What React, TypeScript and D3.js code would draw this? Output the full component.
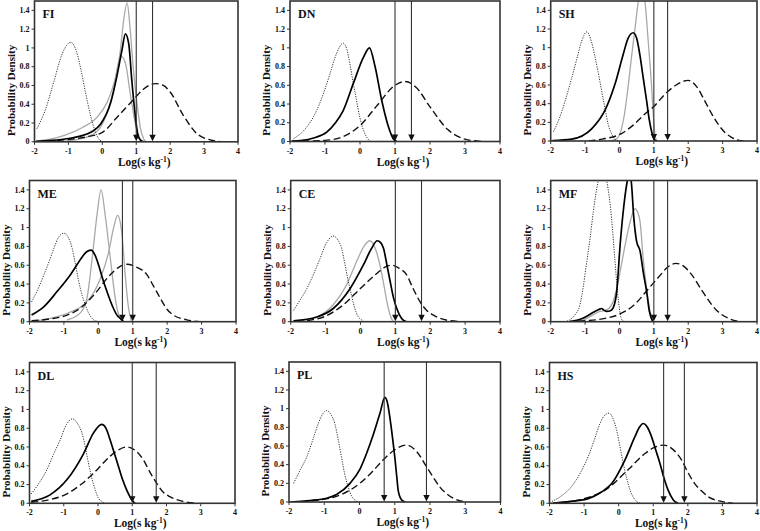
import React from 'react';
import * as d3 from 'd3';

type Pt = [number, number];

const xTicks = [-2, -1, 0, 1, 2, 3, 4];
const yTicks = [0, 0.2, 0.4, 0.6, 0.8, 1, 1.2, 1.4];
const yTickLabels = ['0', '0.2', '0.4', '0.6', '0.8', '1', '1.2', '1.4'];
const panelNames = ['FI', 'DN', 'SH', 'ME', 'CE', 'MF', 'DL', 'PL', 'HS'];

// ---- FI ----
const FI_dotted: Pt[] = [[-1.93,0.14],[-1.68,0.34],[-1.43,0.64],[-1.18,0.94],[-0.93,1.06],[-0.76,0.96],[-0.62,0.75],[-0.5,0.53],[-0.36,0.3],[-0.21,0.11],[-0.08,0.02],[0.05,0]];
const FI_black: Pt[] = [[-1.95,0.005],[-1.5,0.015],[-1.0,0.035],[-0.65,0.06],[-0.3,0.11],[-0.05,0.19],[0.24,0.41],[0.43,0.7],[0.58,0.98],[0.68,1.15],[0.78,1.04],[0.87,0.65],[0.97,0.28],[1.04,0.09],[1.12,0.02],[1.22,0]];
const FI_grayTall: Pt[] = [[-1.95,0.01],[-1.5,0.03],[-1.1,0.07],[-0.6,0.15],[-0.16,0.26],[0.14,0.42],[0.28,0.55],[0.43,0.75],[0.53,0.97],[0.63,1.3],[0.73,1.48],[0.82,1.2],[0.92,0.75],[1.02,0.42],[1.12,0.15],[1.22,0.03],[1.3,0]];
const FI_grayInner: Pt[] = [[-1.5,0],[-1.0,0.01],[-0.65,0.03],[-0.16,0.11],[0.14,0.31],[0.33,0.55],[0.45,0.8],[0.55,0.91],[0.68,0.84],[0.82,0.52],[0.97,0.2],[1.07,0.05],[1.17,0]];
const FI_dashed: Pt[] = [[-1.95,0],[-1.5,0.01],[-1.0,0.025],[-0.5,0.05],[0,0.1],[0.43,0.26],[0.92,0.45],[1.21,0.56],[1.56,0.62],[1.8,0.6],[2.0,0.53],[2.39,0.28],[2.78,0.09],[3.18,0.02],[3.5,0]];
const FI_arrows = [1.0, 1.48];

// ---- DN ----
const DN_dotted: Pt[] = [[-1.9,0.03],[-1.6,0.12],[-1.24,0.33],[-1.0,0.56],[-0.86,0.72],[-0.67,0.94],[-0.48,1.05],[-0.38,0.99],[-0.29,0.83],[-0.2,0.64],[-0.1,0.44],[0.0,0.25],[0.1,0.12],[0.2,0.04],[0.3,0]];
const DN_black: Pt[] = [[-1.95,0.005],[-1.7,0.01],[-1.3,0.04],[-0.95,0.1],[-0.7,0.2],[-0.48,0.33],[-0.19,0.62],[0.1,0.9],[0.27,1.0],[0.43,0.8],[0.62,0.44],[0.81,0.16],[0.95,0.03],[1.05,0]];
const DN_dashed: Pt[] = [[-1.95,0],[-1.5,0.005],[-1.0,0.012],[-0.5,0.05],[0,0.17],[0.5,0.39],[1.0,0.6],[1.29,0.64],[1.6,0.58],[2.0,0.37],[2.5,0.13],[3.0,0.025],[3.5,0]];
const DN_arrows = [1.0, 1.47];

// ---- SH ----
const SH_dotted: Pt[] = [[-1.92,0.1],[-1.75,0.24],[-1.58,0.43],[-1.4,0.66],[-1.24,0.88],[-1.1,1.07],[-0.95,1.17],[-0.82,1.07],[-0.71,0.9],[-0.6,0.7],[-0.52,0.54],[-0.42,0.35],[-0.33,0.18],[-0.22,0.07],[-0.13,0.02],[0,0]];
const SH_black: Pt[] = [[-1.95,0.005],[-1.39,0.02],[-0.81,0.13],[-0.42,0.33],[-0.13,0.61],[0.11,0.93],[0.25,1.1],[0.4,1.16],[0.5,1.1],[0.59,0.93],[0.69,0.68],[0.79,0.43],[0.87,0.22],[0.93,0.11],[1.03,0.01],[1.1,0]];
const SH_gray: Pt[] = [[-0.3,0],[-0.1,0.02],[0.05,0.12],[0.15,0.3],[0.26,0.61],[0.35,0.9],[0.45,1.2],[0.55,1.5],[0.64,1.65],[0.74,1.5],[0.84,1.05],[0.93,0.61],[0.98,0.3],[1.03,0.08],[1.08,0]];
const SH_dashed: Pt[] = [[-0.9,0],[-0.5,0.02],[0.06,0.08],[0.4,0.17],[0.74,0.29],[1.0,0.37],[1.32,0.5],[1.65,0.6],[2.0,0.65],[2.25,0.58],[2.48,0.43],[2.7,0.28],[2.87,0.18],[3.1,0.08],[3.26,0.04],[3.45,0.01],[3.6,0]];
const SH_arrows = [1.0, 1.4];

// ---- ME ----
const ME_dotted: Pt[] = [[-1.94,0.21],[-1.75,0.35],[-1.58,0.5],[-1.42,0.65],[-1.29,0.78],[-1.15,0.9],[-1.0,0.94],[-0.88,0.9],[-0.76,0.78],[-0.66,0.6],[-0.57,0.43],[-0.47,0.28],[-0.38,0.18],[-0.28,0.09],[-0.18,0.035],[-0.05,0.005],[0.06,0]];
const ME_black: Pt[] = [[-1.94,0.07],[-1.58,0.16],[-1.2,0.32],[-0.81,0.5],[-0.52,0.66],[-0.35,0.74],[-0.21,0.76],[-0.1,0.71],[0.01,0.6],[0.13,0.45],[0.25,0.32],[0.35,0.22],[0.44,0.14],[0.54,0.07],[0.64,0.035],[0.73,0]];
const ME_grayTall: Pt[] = [[-0.91,0.02],[-0.6,0.07],[-0.45,0.13],[-0.33,0.25],[-0.18,0.67],[-0.04,1.13],[0.08,1.4],[0.2,1.13],[0.35,0.67],[0.49,0.25],[0.57,0.1],[0.64,0.03],[0.72,0]];
const ME_grayWide: Pt[] = [[-1.8,0.01],[-1.39,0.035],[-0.9,0.09],[-0.43,0.18],[-0.15,0.3],[0.06,0.46],[0.3,0.74],[0.44,0.99],[0.56,1.13],[0.64,1.05],[0.69,0.92],[0.78,0.5],[0.88,0.14],[0.93,0.05],[0.98,0]];
const ME_dashed: Pt[] = [[-1.94,0.01],[-1.4,0.03],[-0.91,0.07],[-0.5,0.15],[-0.14,0.28],[0.35,0.5],[0.6,0.58],[0.83,0.61],[1.1,0.58],[1.41,0.5],[1.6,0.38],[1.8,0.25],[2.0,0.13],[2.18,0.07],[2.57,0.02],[2.96,0]];
const ME_arrows = [0.7, 1.0];

// ---- CE ----
const CE_dotted: Pt[] = [[-1.92,0.12],[-1.75,0.22],[-1.54,0.35],[-1.35,0.5],[-1.16,0.67],[-0.97,0.84],[-0.78,0.91],[-0.65,0.87],[-0.54,0.78],[-0.45,0.62],[-0.35,0.43],[-0.25,0.27],[-0.16,0.14],[-0.06,0.05],[0.03,0.02],[0.1,0]];
const CE_gray: Pt[] = [[-1.92,0],[-1.25,0.05],[-0.78,0.18],[-0.4,0.39],[-0.11,0.64],[0.1,0.8],[0.27,0.86],[0.4,0.8],[0.46,0.74],[0.56,0.6],[0.65,0.43],[0.8,0.14],[0.87,0.05],[0.94,0]];
const CE_black: Pt[] = [[-1.92,0.01],[-1.25,0.05],[-0.78,0.14],[-0.3,0.35],[0.08,0.6],[0.32,0.78],[0.48,0.86],[0.58,0.84],[0.66,0.78],[0.76,0.6],[0.85,0.43],[0.95,0.25],[1.04,0.14],[1.18,0.035],[1.32,0]];
const CE_dashed: Pt[] = [[-1.83,0],[-1.4,0.02],[-1.06,0.05],[-0.49,0.18],[-0.01,0.35],[0.46,0.51],[0.7,0.58],[0.89,0.6],[1.1,0.57],[1.32,0.5],[1.5,0.36],[1.71,0.21],[1.9,0.12],[2.09,0.07],[2.57,0.01],[2.95,0]];
const CE_arrows = [1.0, 1.75];

// ---- MF ----
const MF_dotted: Pt[] = [[-1.6,0],[-1.44,0.02],[-1.3,0.07],[-1.15,0.18],[-1.05,0.38],[-0.95,0.64],[-0.85,0.9],[-0.76,1.17],[-0.62,1.49],[-0.5,1.6],[-0.37,1.49],[-0.23,1.1],[-0.13,0.64],[-0.03,0.22],[0.07,0.02],[0.15,0]];
const MF_black: Pt[] = [[-1.44,0],[-1.05,0.04],[-0.76,0.1],[-0.6,0.13],[-0.52,0.14],[-0.44,0.12],[-0.37,0.11],[-0.25,0.12],[-0.18,0.15],[-0.08,0.32],[0.02,0.82],[0.13,1.24],[0.23,1.5],[0.28,1.58],[0.34,1.5],[0.42,1.09],[0.5,0.85],[0.6,0.75],[0.69,0.53],[0.79,0.32],[0.87,0.11],[0.97,0]];
const MF_gray: Pt[] = [[-1.44,0],[-1.05,0.02],[-0.56,0.11],[-0.4,0.12],[-0.2,0.2],[-0.08,0.35],[0.11,0.71],[0.31,1.06],[0.45,1.2],[0.52,1.17],[0.6,1.06],[0.69,0.67],[0.79,0.35],[0.89,0.11],[0.99,0]];
const MF_dashed: Pt[] = [[-1.5,0],[-1.0,0.01],[-0.5,0.03],[0,0.08],[0.4,0.17],[0.89,0.37],[1.2,0.5],[1.37,0.57],[1.64,0.62],[1.9,0.58],[2.1,0.5],[2.4,0.33],[2.8,0.13],[3.2,0.03],[3.5,0]];
const MF_arrows = [1.0, 1.4];

// ---- DL ----
const DL_dotted: Pt[] = [[-1.95,0.1],[-1.75,0.2],[-1.49,0.36],[-1.3,0.52],[-1.1,0.68],[-0.92,0.84],[-0.74,0.9],[-0.6,0.85],[-0.47,0.75],[-0.37,0.6],[-0.28,0.43],[-0.18,0.27],[-0.08,0.14],[0.02,0.05],[0.11,0.02],[0.2,0]];
const DL_black: Pt[] = [[-1.95,0.02],[-1.4,0.09],[-0.91,0.25],[-0.42,0.53],[-0.13,0.75],[0.11,0.84],[0.23,0.8],[0.35,0.68],[0.48,0.53],[0.6,0.39],[0.72,0.25],[0.84,0.14],[0.99,0.035],[1.08,0]];
const DL_dashed: Pt[] = [[-1.95,0.01],[-1.4,0.04],[-0.91,0.1],[-0.5,0.2],[-0.13,0.32],[0.35,0.5],[0.6,0.57],[0.84,0.6],[1.1,0.56],[1.33,0.46],[1.52,0.33],[1.72,0.21],[1.9,0.12],[2.1,0.07],[2.49,0.02],[2.9,0]];
const DL_arrows = [1.0, 1.7];

// ---- PL ----
const PL_dotted: Pt[] = [[-1.87,0.2],[-1.7,0.33],[-1.5,0.48],[-1.33,0.66],[-1.17,0.84],[-1.05,0.94],[-0.93,0.98],[-0.8,0.93],[-0.7,0.84],[-0.6,0.66],[-0.51,0.48],[-0.42,0.3],[-0.32,0.16],[-0.22,0.06],[-0.13,0.02],[-0.05,0]];
const PL_black: Pt[] = [[-1.95,0],[-1.4,0.015],[-0.93,0.04],[-0.65,0.08],[-0.27,0.2],[0.01,0.35],[0.2,0.52],[0.39,0.72],[0.58,0.95],[0.72,1.12],[0.8,1.05],[0.86,0.91],[0.94,0.68],[1.01,0.45],[1.06,0.26],[1.1,0.12],[1.2,0.02],[1.3,0]];
const PL_dashed: Pt[] = [[-1.95,0],[-1.2,0.02],[-0.74,0.05],[-0.3,0.12],[0.01,0.2],[0.35,0.32],[0.67,0.45],[1.0,0.56],[1.34,0.61],[1.6,0.55],[1.9,0.38],[2.1,0.26],[2.28,0.16],[2.5,0.08],[2.66,0.04],[3.04,0]];
const PL_arrows = [0.7, 1.9];

// ---- HS ----
const HS_dotted: Pt[] = [[-1.93,0.02],[-1.65,0.08],[-1.36,0.18],[-1.1,0.33],[-0.88,0.5],[-0.7,0.68],[-0.54,0.85],[-0.4,0.94],[-0.28,0.96],[-0.16,0.9],[-0.06,0.78],[0.04,0.6],[0.13,0.43],[0.23,0.27],[0.33,0.14],[0.43,0.06],[0.52,0.02],[0.62,0]];
const HS_black: Pt[] = [[-1.9,0],[-1.4,0.02],[-0.88,0.05],[-0.5,0.12],[-0.2,0.21],[0.18,0.46],[0.47,0.71],[0.6,0.81],[0.71,0.85],[0.83,0.81],[0.95,0.71],[1.07,0.57],[1.19,0.43],[1.31,0.27],[1.43,0.14],[1.58,0.035],[1.72,0]];
const HS_dashed: Pt[] = [[-1.9,0],[-1.36,0.02],[-0.9,0.06],[-0.39,0.14],[0.28,0.36],[0.76,0.53],[1.0,0.59],[1.29,0.62],[1.55,0.58],[1.82,0.46],[2.0,0.33],[2.2,0.21],[2.4,0.13],[2.59,0.07],[2.97,0.02],[3.3,0]];
const HS_arrows = [1.3, 1.9];

interface Panel {
  name: string;
  gray: Pt[][];
  dotted: Pt[];
  dashed: Pt[];
  black: Pt[];
  arrows: number[];
}

const panels: Panel[] = [
  { name: panelNames[0], gray: [FI_grayTall, FI_grayInner], dotted: FI_dotted, dashed: FI_dashed, black: FI_black, arrows: FI_arrows },
  { name: panelNames[1], gray: [], dotted: DN_dotted, dashed: DN_dashed, black: DN_black, arrows: DN_arrows },
  { name: panelNames[2], gray: [SH_gray], dotted: SH_dotted, dashed: SH_dashed, black: SH_black, arrows: SH_arrows },
  { name: panelNames[3], gray: [ME_grayTall, ME_grayWide], dotted: ME_dotted, dashed: ME_dashed, black: ME_black, arrows: ME_arrows },
  { name: panelNames[4], gray: [CE_gray], dotted: CE_dotted, dashed: CE_dashed, black: CE_black, arrows: CE_arrows },
  { name: panelNames[5], gray: [MF_gray], dotted: MF_dotted, dashed: MF_dashed, black: MF_black, arrows: MF_arrows },
  { name: panelNames[6], gray: [], dotted: DL_dotted, dashed: DL_dashed, black: DL_black, arrows: DL_arrows },
  { name: panelNames[7], gray: [], dotted: PL_dotted, dashed: PL_dashed, black: PL_black, arrows: PL_arrows },
  { name: panelNames[8], gray: [], dotted: HS_dotted, dashed: HS_dashed, black: HS_black, arrows: HS_arrows },
];

// plot-area boxes (layout only)
const boxes = [
  { l: 34.5, r: 238, t: 1, b: 141.8 },
  { l: 290, r: 500, t: 1, b: 141.5 },
  { l: 550.7, r: 757, t: 1, b: 141 },
  { l: 29.5, r: 236, t: 180.5, b: 321.7 },
  { l: 290.7, r: 500, t: 180.5, b: 321.7 },
  { l: 550.7, r: 757, t: 180.5, b: 321.7 },
  { l: 29.5, r: 235, t: 362.5, b: 503.3 },
  { l: 289, r: 500.5, t: 362, b: 502 },
  { l: 549.5, r: 757, t: 362.5, b: 503.3 },
];

const FONT = '"Liberation Serif", "Times New Roman", serif';

function PanelView({ p, box, idx }: { p: Panel; box: typeof boxes[number]; idx: number }) {
  const x = d3.scaleLinear().domain([-2, 4]).range([box.l, box.r]);
  const y = d3.scaleLinear().domain([0, 1.5]).range([box.b, box.t]);
  const line = d3.line<Pt>().x(d => x(d[0])).y(d => y(d[1])).curve(d3.curveMonotoneX);
  const clipId = `clip-${idx}`;
  const cx = (box.l + box.r) / 2;
  const cy = (box.t + box.b) / 2;
  return (
    <g>
      <defs>
        <clipPath id={clipId}>
          <rect x={box.l} y={box.t} width={box.r - box.l} height={box.b - box.t} />
        </clipPath>
      </defs>
      <g clipPath={`url(#${clipId})`}>
        {p.gray.map((g, i) => (
          <path key={i} d={line(g) || ''} fill="none" stroke="#a8a8a8" strokeWidth={1.3} />
        ))}
        <path d={line(p.dotted) || ''} fill="none" stroke="#333" strokeWidth={1} strokeDasharray="1.2,1.3" />
        <path d={line(p.dashed) || ''} fill="none" stroke="#111" strokeWidth={1.4} strokeDasharray="7,3.5" />
        <path d={line(p.black) || ''} fill="none" stroke="#000" strokeWidth={1.7} />
      </g>
      {p.arrows.map((a, i) => {
        const ax = x(a);
        return (
          <g key={i}>
            <line x1={ax} x2={ax} y1={box.t} y2={box.b - 5} stroke="#333" strokeWidth={1.1} />
            <path d={`M${ax - 3.2},${box.b - 7} L${ax + 3.2},${box.b - 7} L${ax},${box.b - 0.5} Z`} fill="#111" />
          </g>
        );
      })}
      <rect x={box.l} y={box.t} width={box.r - box.l} height={box.b - box.t} fill="none" stroke="#333" strokeWidth={1.6} />
      {yTicks.map((t, i) => (
        <g key={`y${i}`}>
          <line x1={box.l - 3} x2={box.l} y1={y(t)} y2={y(t)} stroke="#333" strokeWidth={1} />
          <text x={box.l - 5} y={y(t)} dy="0.33em" textAnchor="end" fontSize={8} fontWeight="bold" fontFamily={FONT} fill="#111">
            {yTickLabels[i]}
          </text>
        </g>
      ))}
      {xTicks.map((t, i) => (
        <g key={`x${i}`}>
          <line x1={x(t)} x2={x(t)} y1={box.b} y2={box.b + 3} stroke="#333" strokeWidth={1} />
          <text x={x(t)} y={box.b + 12} textAnchor="middle" fontSize={8} fontWeight="bold" fontFamily={FONT} fill="#111">
            {t}
          </text>
        </g>
      ))}
      <text x={box.l + 8} y={box.t + 17} fontSize={12} fontWeight="bold" fontFamily={FONT} fill="#111">
        {p.name}
      </text>
      <text transform={`translate(${box.l - 20},${cy + 19}) rotate(-90)`} textAnchor="middle" fontSize={11} fontWeight="bold" fontFamily={FONT} fill="#111">
        Probability Density
      </text>
      <text x={cx + 8} y={box.b + 24} textAnchor="middle" fontSize={11.5} fontWeight="bold" fontFamily={FONT} fill="#111">
        Log(s kg<tspan dy={-4} fontSize={7.5}>-1</tspan><tspan dy={4}>)</tspan>
      </text>
    </g>
  );
}

export default function App() {
  return (
    <svg width={760} height={531} style={{ position: 'absolute', left: 0, top: 0, background: '#fff' }}>
      <rect x={0} y={0} width={760} height={531} fill="#fff" />
      {panels.map((p, i) => (
        <PanelView key={i} p={p} box={boxes[i]} idx={i} />
      ))}
    </svg>
  );
}
